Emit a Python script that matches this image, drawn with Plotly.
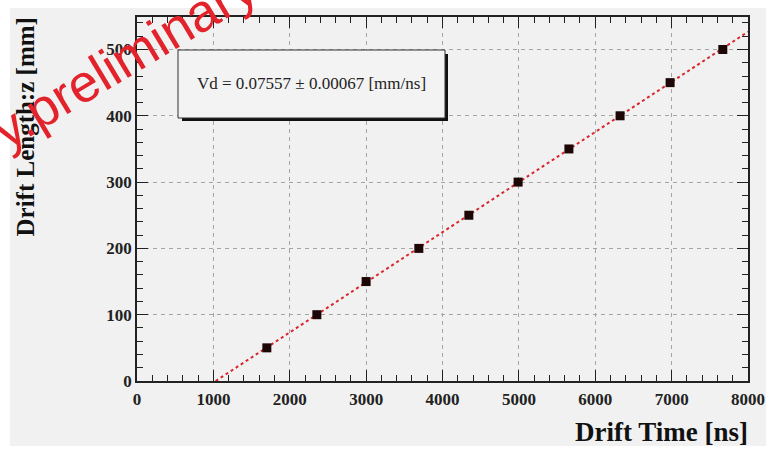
import plotly.graph_objects as go

# ---- data ----
drift_time_ns = [1700, 2355, 3000, 3690, 4345, 4990, 5655, 6325, 6980, 7670]
drift_length_mm = [50, 100, 150, 200, 250, 300, 350, 400, 450, 500]
vd_fit = 0.07557          # mm/ns
t0_fit = 1030             # ns, intercept of the fit line
fit_time_range = [1030, 8000]
x_ticks = [0, 1000, 2000, 3000, 4000, 5000, 6000, 7000, 8000]
y_ticks = [0, 100, 200, 300, 400, 500]

fit_length = [vd_fit * (t - t0_fit) for t in fit_time_range]

W, H = 780, 449
L, R, T, B = 137, 748, 17, 381
PW, PH = R - L, B - T


def px(x):
    return (x - L) / PW


def py(y):
    return (B - y) / PH


GRAY = "#f1f1f1"
serif = "Liberation Serif, Times New Roman, serif"

fig = go.Figure()
fig.add_trace(go.Scatter(
    x=fit_time_range, y=fit_length, mode="lines",
    line=dict(color="#d8262c", width=2, dash="dot"),
    showlegend=False))
fig.add_trace(go.Scatter(
    x=drift_time_ns, y=drift_length_mm, mode="markers",
    marker=dict(symbol="square", size=9, color="#1c0606"),
    showlegend=False, cliponaxis=False))

axis_common = dict(
    showline=True, linecolor="#222", linewidth=1.5, mirror="allticks",
    ticks="inside", ticklen=11, tickwidth=1.2, tickcolor="#222",
    showgrid=True, gridcolor="#a5a5a5", gridwidth=1, griddash="4px,4px",
    zeroline=False,
    tickfont=dict(family=serif, size=17, color="#222", weight="bold"),
    minor=dict(ticks="inside", ticklen=6, tickwidth=1, tickcolor="#222", showgrid=False),
)

fig.update_xaxes(range=[0, 8000], tickvals=x_ticks, ticktext=[str(v) for v in x_ticks],
                 minor_dtick=200, ticklabelstandoff=2, **axis_common)
fig.update_yaxes(range=[0, 549], tickvals=y_ticks, ticktext=[str(v) for v in y_ticks],
                 minor_dtick=20, **axis_common)

shapes = [
    # canvas
    dict(type="rect", xref="paper", yref="paper", x0=px(10), x1=px(766), y0=py(446), y1=py(8),
         fillcolor=GRAY, line=dict(width=0), layer="below"),
    # stats box shadow
    dict(type="rect", xref="paper", yref="paper", x0=px(182), x1=px(448), y0=py(121), y1=py(54),
         fillcolor="#111", line=dict(width=0), layer="above"),
    # stats box
    dict(type="rect", xref="paper", yref="paper", x0=px(178), x1=px(445), y0=py(118), y1=py(50),
         fillcolor="#f3f3f3", line=dict(color="#333", width=1), layer="above"),
]

annotations = [
    dict(text="Vd = 0.07557 ± 0.00067 [mm/ns]", xref="paper", yref="paper",
         x=px(311), y=py(83), showarrow=False, xanchor="center", yanchor="middle",
         font=dict(family=serif, size=17, color="#222")),
    dict(text="Drift Time [ns]", xref="paper", yref="paper",
         x=px(750), y=py(432), showarrow=False, xanchor="right", yanchor="middle",
         font=dict(family=serif, size=27, color="#111", weight="bold")),
    dict(text="Drift Length:z [mm]", xref="paper", yref="paper",
         x=px(25), y=py(16), showarrow=False, xanchor="center", yanchor="top",
         textangle=-90,
         font=dict(family=serif, size=25, color="#111", weight="bold")),
    dict(text="y.preliminary", xref="paper", yref="paper",
         x=px(124), y=py(58), showarrow=False, xanchor="center", yanchor="middle",
         textangle=-31,
         font=dict(family="Liberation Sans, Arial, sans-serif", size=53, color="#e3232b")),
]

fig.update_layout(
    width=W, height=H,
    margin=dict(l=L, r=W - R, t=T, b=H - B, pad=0),
    paper_bgcolor="white", plot_bgcolor=GRAY,
    shapes=shapes, annotations=annotations,
    showlegend=False,
)

fig.write_html("out.html", config={"displayModeBar": False})
